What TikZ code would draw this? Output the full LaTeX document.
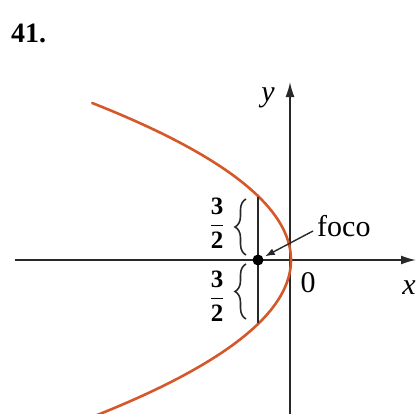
\documentclass[tikz,border=0pt]{standalone}
\usepackage{fontspec}
\setmainfont{Liberation Serif}
\usetikzlibrary{arrows.meta,decorations.pathreplacing}
\definecolor{curvecol}{RGB}{212,88,40}
\definecolor{axiscol}{RGB}{40,40,40}
\begin{document}
\begin{tikzpicture}[x=1pt,y=1pt,
  axis/.style={line width=1.6pt, draw=axiscol, -{Latex[length=15pt,width=9pt]}},
  parab/.style={line width=2.6pt, draw=curvecol, line cap=round},
  lbl/.style={inner sep=0pt, font=\fontsize{30}{32}\selectfont},
  frac/.style={inner sep=0pt, font=\fontsize{25}{27}\selectfont\bfseries},
  bracestyle/.style={decorate, decoration={brace, amplitude=11pt}, line width=1.6pt, draw=axiscol},
  pointer/.style={line width=1.4pt, draw=axiscol, -{Latex[length=10pt,width=7pt]}, shorten >=2pt}]
\useasboundingbox (-290,-153) rectangle (127,260);
% axes
\coordinate (xs) at (-275,0);
\coordinate (xe) at (126,0);
\coordinate (ys) at (0,-160);
\coordinate (ye) at (0,178);
\draw[axis] (xs) -- (xe);
\draw[axis] (ys) -- (ye);
% parabola
\draw[parab] plot[domain=157:-156, samples=90, variable=\t] ({1-(\t/10)*(\t/124)*10}, {\t});
% latus rectum
\coordinate (la) at (-32,63);
\coordinate (lb) at (-32,-63);
\draw[line width=1.5pt, draw=axiscol] (la) -- (lb);
% focus
\node[circle, fill=black, inner sep=0pt, minimum size=11pt] (F) at (-32,0) {};
% braces
\coordinate (b1a) at (-44,5);
\coordinate (b1b) at (-44,61);
\coordinate (b2a) at (-44,-59);
\coordinate (b2b) at (-44,-4);
\draw[bracestyle] (b1a) -- (b1b);
\draw[bracestyle] (b2a) -- (b2b);
% fractions
\node[frac] (f1) at (-73,37) {$\displaystyle\frac{\mbox{3}}{\mbox{2}}$};
\node[frac] (f2) at (-73,-36) {$\displaystyle\frac{\mbox{3}}{\mbox{2}}$};
% labels
\node[lbl, anchor=west] (foco) at (27,34) {foco};
\coordinate (fs) at (23,29);
\draw[pointer] (fs) -- (F);
\node[lbl] (zero) at (18,-23) {0};
\node[lbl] (xl) at (119,-28) {\itshape x};
\node[lbl] (yl) at (-22,162) {\itshape y};
\node[inner sep=0pt, anchor=west, font=\fontsize{28}{30}\selectfont\bfseries] (num) at (-279,227) {41.};
\end{tikzpicture}
\end{document}
